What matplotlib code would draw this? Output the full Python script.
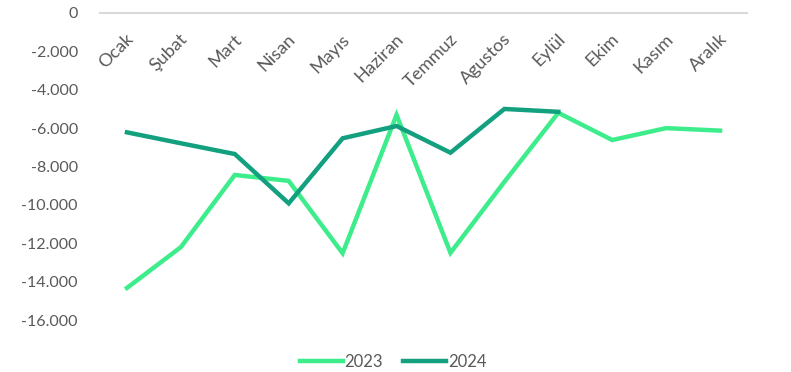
import matplotlib
matplotlib.use("Agg")
import matplotlib.pyplot as plt
import matplotlib.transforms as mtransforms
import numpy as np

months = ["Ocak", "Şubat", "Mart", "Nisan", "Mayıs", "Haziran",
          "Temmuz", "Agustos", "Eylül", "Ekim", "Kasım", "Aralık"]
v2023 = [-14330, -12200, -8440, -8750, -12520, -5310,
         -12500, -8800, -5200, -6620, -6000, -6130]
v2024 = [-6220, -6790, -7350, -9920, -6530, -5890,
         -7280, -5000, -5150]
yticks = [0, -2000, -4000, -6000, -8000, -10000, -12000, -14000, -16000]

C23 = "#3ded8c"; C24 = "#12a07f"; C_TXT = "#595959"
plt.rcParams["font.family"] = ["Lato", "DejaVu Sans"]

fig = plt.figure(figsize=(7.91, 3.72), dpi=100)
ax = fig.add_axes([100/791, 1-320/372, 647/791, 307/372])
x = np.arange(len(months))
ax.plot(x, v2023, color=C23, lw=3.2, label="2023", solid_joinstyle="miter")
ax.plot(x[:len(v2024)], v2024, color=C24, lw=3.2, label="2024", solid_joinstyle="miter")

ax.set_xlim(-0.5, 11.5)
ax.set_ylim(-16000, 0)
ax.axhline(0, color="#d9d9d9", lw=1.5, zorder=0, clip_on=False)
for s in ax.spines.values():
    s.set_visible(False)
ax.set_xticks([])
ax.set_yticks(yticks)
ax.set_yticklabels([f"{v:,}".replace(",", ".") for v in yticks])
ax.tick_params(axis="y", length=0, pad=16, labelsize=11.5, labelcolor=C_TXT)

off = mtransforms.offset_copy(ax.transData, fig=fig, x=3, y=-17, units="points")
for i, m in enumerate(months):
    ax.text(i, 0, m, transform=off, rotation=45, rotation_mode="anchor",
            ha="right", va="center", fontsize=13, color=C_TXT)

fig.legend(loc="center", bbox_to_anchor=(0.497, 0.027), ncol=2, frameon=False,
           fontsize=12, labelcolor=C_TXT, handlelength=2.6, handletextpad=0.1,
           columnspacing=1.2)
fig.savefig("out.png", dpi=100, facecolor="white")
